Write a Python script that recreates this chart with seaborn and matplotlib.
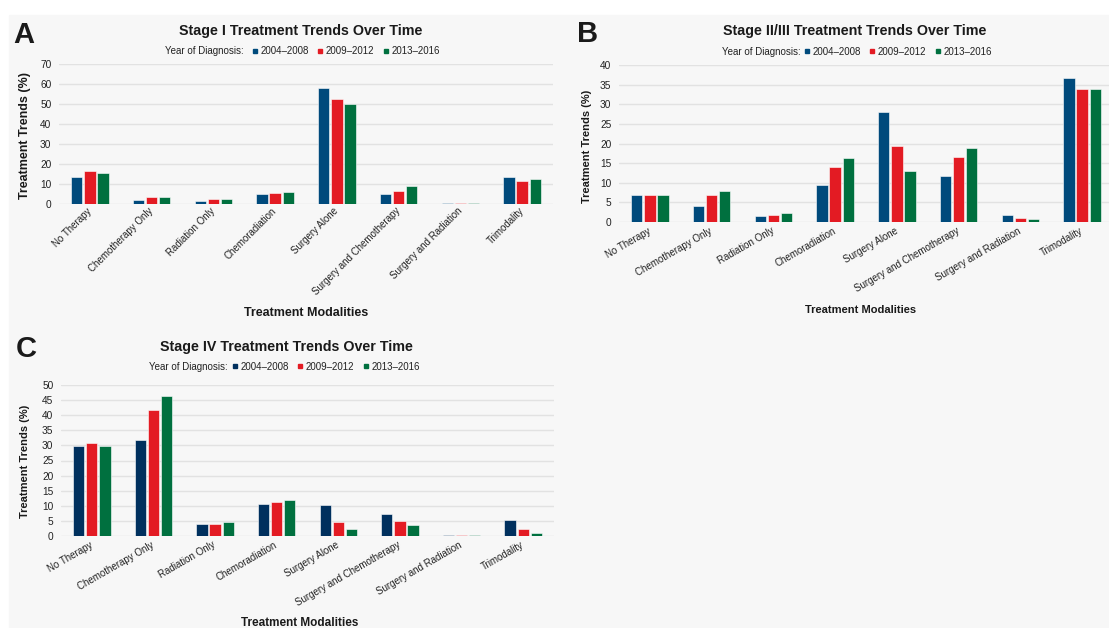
import numpy as np
import pandas as pd
import matplotlib
matplotlib.use("Agg")
import matplotlib.pyplot as plt
from matplotlib.lines import Line2D
from matplotlib.patches import Rectangle
import seaborn as sns

# ---------------- DATA ----------------
modalities = ["No Therapy", "Chemotherapy Only", "Radiation Only", "Chemoradiation",
              "Surgery Alone", "Surgery and Chemotherapy", "Surgery and Radiation",
              "Trimodality"]
periods = ["2004–2008", "2009–2012", "2013–2016"]

stage1_0408 = [13.7, 2.0, 1.7, 4.8, 57.9, 4.8, 0.5, 13.3]
stage1_0912 = [16.3, 3.7, 2.5, 5.5, 52.3, 6.3, 0.5, 11.6]
stage1_1316 = [15.6, 3.7, 2.5, 6.0, 50.0, 8.8, 0.5, 12.5]

stage23_0408 = [6.8, 4.2, 1.5, 9.5, 28.1, 11.8, 1.8, 36.6]
stage23_0912 = [6.8, 6.8, 1.9, 13.9, 19.4, 16.6, 0.9, 34.0]
stage23_1316 = [7.0, 7.9, 2.4, 16.4, 12.9, 18.8, 0.7, 34.0]

stage4_0408 = [29.9, 31.8, 3.9, 10.5, 10.2, 7.4, 0.3, 5.2]
stage4_0912 = [30.7, 41.8, 3.9, 11.3, 4.5, 5.0, 0.3, 2.2]
stage4_1316 = [29.7, 46.4, 4.7, 11.8, 2.3, 3.7, 0.3, 0.9]

# ---------------- STYLE ----------------
sns.set_style("white")
plt.rcParams["font.family"] = ["Liberation Sans", "DejaVu Sans"]

W, H = 1109, 628
BG = "#f7f7f7"
GRID = "#e2e2e2"
TXT = "#222222"


def fx(x):
    return x / W


def fy(y):
    return 1 - y / H


fig = plt.figure(figsize=(W / 100, H / 100), dpi=100)
fig.patch.set_facecolor("white")
fig.patches.append(Rectangle((fx(9), 0), 1, fy(15), transform=fig.transFigure,
                             color=BG, zorder=-10))

panels = [
    dict(letter="A", title="Stage I Treatment Trends Over Time",
         data=[stage1_0408, stage1_0912, stage1_1316],
         colors=["#004a7c", "#e31b23", "#00703f"],
         box=(59, 64, 553, 204), ymax=70, step=10, rot=45, tickpad=4,
         letter_xy=(13, 43), title_xy=(301, 35.5),
         leg_text=(165, 54.3), leg_box=(252, 51),
         xlab=(306, 316, 9), ylab=(25.5, 136, 9)),
    dict(letter="B", title="Stage II/III Treatment Trends Over Time",
         data=[stage23_0408, stage23_0912, stage23_1316],
         colors=["#004a7c", "#e31b23", "#00703f"],
         box=(619, 65, 1113, 222), ymax=40, step=5, rot=30, tickpad=6,
         letter_xy=(577, 42), title_xy=(855, 35),
         leg_text=(722, 55), leg_box=(804, 51.7),
         xlab=(861, 313, 8), ylab=(586.5, 146, 8)),
    dict(letter="C", title="Stage IV Treatment Trends Over Time",
         data=[stage4_0408, stage4_0912, stage4_1316],
         colors=["#00305e", "#e31b23", "#00703f"],
         box=(61, 385, 554, 536), ymax=50, step=5, rot=30, tickpad=6,
         letter_xy=(16, 357), title_xy=(286, 350.7),
         leg_text=(149, 370), leg_box=(232, 366.7),
         xlab=(300, 626, 8.5), ylab=(25, 461, 8)),
]

for p in panels:
    x0, y0, x1, y1 = p["box"]
    ax = fig.add_axes([fx(x0), fy(y1), (x1 - x0) / W, (y1 - y0) / H])
    ax.set_facecolor(BG)

    df = pd.DataFrame({
        "modality": modalities * 3,
        "period": np.repeat(periods, len(modalities)),
        "value": p["data"][0] + p["data"][1] + p["data"][2],
    })

    sns.barplot(
        data=df, x="modality", y="value", hue="period",
        order=modalities, hue_order=periods,
        palette=p["colors"], saturation=1,
        width=0.64, gap=0.14,
        edgecolor="white", linewidth=0.4,
        errorbar=None, legend=False, ax=ax,
    )

    ax.set_xlim(-0.5, len(modalities) - 0.5)
    ax.set_ylim(0, p["ymax"])
    ax.set_yticks(range(0, p["ymax"] + 1, p["step"]))
    ax.yaxis.grid(True, color=GRID, linewidth=1)
    ax.set_axisbelow(True)
    for s in ax.spines.values():
        s.set_visible(False)
    ax.tick_params(axis="both", length=0, labelsize=7, colors=TXT)
    ax.tick_params(axis="y", pad=5.5, labelsize=7.3)
    ax.tick_params(axis="x", pad=p["tickpad"])
    ax.set_xticks(range(len(modalities)))
    ax.set_xticklabels(modalities, rotation=p["rot"], ha="right",
                       va="center", rotation_mode="anchor")
    ax.set_xlabel("")
    ax.set_ylabel("")

    # panel letter, title, axis labels
    lx, ly = p["letter_xy"]
    fig.text(fx(lx), fy(ly), p["letter"], fontsize=21, fontweight="bold",
             color="#1a1a1a", va="baseline", ha="left")
    tx, ty = p["title_xy"]
    fig.text(fx(tx), fy(ty), p["title"], fontsize=10.3, fontweight="bold",
             color="#1a1a1a", va="baseline", ha="center")
    xx, xy, xs = p["xlab"]
    fig.text(fx(xx), fy(xy), "Treatment Modalities", fontsize=xs,
             fontweight="bold", color="#1a1a1a", va="baseline", ha="center")
    yx, yy, ys = p["ylab"]
    fig.text(fx(yx), fy(yy), "Treatment Trends (%)", fontsize=ys,
             fontweight="bold", color="#1a1a1a", rotation=90,
             va="center", ha="center")

    # legend
    ltx, lty = p["leg_text"]
    fig.text(fx(ltx), fy(lty), "Year of Diagnosis:", fontsize=7, color=TXT,
             va="baseline", ha="left")
    handles = [Line2D([], [], marker="s", linestyle="", color=c, markersize=3.2)
               for c in p["colors"]]
    bx, by = p["leg_box"]
    fig.legend(handles, periods, loc="center left",
               bbox_to_anchor=(fx(bx), fy(by)), bbox_transform=fig.transFigure,
               ncol=3, frameon=False, fontsize=7, borderpad=0,
               borderaxespad=0, handlelength=0.6, handletextpad=0.25,
               columnspacing=0.9, labelcolor=TXT)

fig.savefig("out.png", dpi=100, facecolor="white")
